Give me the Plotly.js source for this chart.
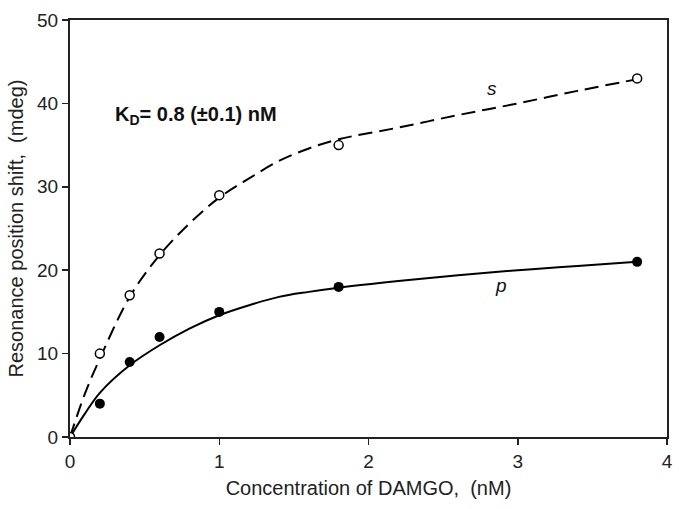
<!DOCTYPE html>
<html>
<head>
<meta charset="utf-8">
<script src="https://cdn.plot.ly/plotly-3.0.1.min.js"></script>
<style>html,body{margin:0;padding:0;background:#fff;}#chart{width:679px;height:509px;}</style>
</head>
<body>
<div id="chart"></div>
<script>
// measured data
const concentration = [0, 0.2, 0.4, 0.6, 1.0, 1.8, 3.8];
const sShift = [0, 10, 17, 22, 29, 35, 43];
const pShift = [0, 4, 9, 12, 15, 18, 21];

// fitted curves
const fitX = [0, 0.1, 0.2, 0.4, 0.6, 0.8, 1.0, 1.2, 1.4, 1.6, 1.8, 2.2, 2.6, 3.0, 3.4, 3.8];
const sFit = [0, 5.2, 9.4, 16.8, 21.8, 25.6, 28.7, 31.0, 33.1, 34.6, 35.7, 37.1, 38.6, 40.0, 41.5, 42.9];
const pFit = [0, 2.8, 5.3, 8.6, 11.0, 13.0, 14.6, 15.8, 16.8, 17.4, 17.9, 18.7, 19.4, 20.0, 20.5, 21.0];

const xTicks = [0, 1, 2, 3, 4];
const yTicks = [0, 10, 20, 30, 40, 50];

const traces = [
  {x: fitX, y: pFit, mode: 'lines', line: {color: '#000', width: 2, shape: 'spline'}, hoverinfo: 'skip'},
  {x: fitX, y: sFit, mode: 'lines', line: {color: '#000', width: 2, dash: '14px,7px', shape: 'spline'}, hoverinfo: 'skip'},
  {x: concentration, y: pShift, mode: 'markers', marker: {symbol: 'circle', size: 10, color: '#000'}},
  {x: concentration, y: sShift, mode: 'markers', marker: {symbol: 'circle', size: 9, color: '#fff', line: {color: '#000', width: 1.5}}}
];

const fontFam = '"Liberation Sans", Arial, sans-serif';
const layout = {
  width: 679, height: 509,
  margin: {l: 70, r: 12, t: 20, b: 72},
  paper_bgcolor: '#fff', plot_bgcolor: '#fff',
  showlegend: false,
  font: {family: fontFam, color: '#222', size: 20},
  xaxis: {
    range: [0, 4], tickvals: xTicks, ticktext: xTicks.map(String),
    showgrid: false, zeroline: false, showline: true, linecolor: '#222', linewidth: 2,
    mirror: true, ticks: 'outside', ticklen: 6, tickwidth: 1.5, tickcolor: '#222',
    tickfont: {size: 19},
    title: {text: 'Concentration of DAMGO,  (nM)', font: {size: 20}, standoff: 10}
  },
  yaxis: {
    range: [0, 50], tickvals: yTicks, ticktext: yTicks.map(String),
    showgrid: false, zeroline: false, showline: true, linecolor: '#222', linewidth: 2,
    mirror: true, ticks: 'outside', ticklen: 6, tickwidth: 1.5, tickcolor: '#222',
    tickfont: {size: 19},
    title: {text: 'Resonance position shift,  (mdeg)', font: {size: 20}, standoff: 8}
  },
  annotations: [
    {xref: 'x', yref: 'y', x: 0.29, y: 38.6, xanchor: 'left', yanchor: 'middle', showarrow: false,
     text: '<b>K<sub>D</sub>= 0.8 (±0.1) nM</b>', font: {size: 20, color: '#111'}},
    {xref: 'x', yref: 'y', x: 2.83, y: 41.8, showarrow: false, text: '<i>s</i>', font: {size: 19, color: '#111'}},
    {xref: 'x', yref: 'y', x: 2.89, y: 18.2, showarrow: false, text: '<i>p</i>', font: {size: 19, color: '#111'}}
  ]
};

Plotly.newPlot('chart', traces, layout, {staticPlot: true, displayModeBar: false});
</script>
</body>
</html>
